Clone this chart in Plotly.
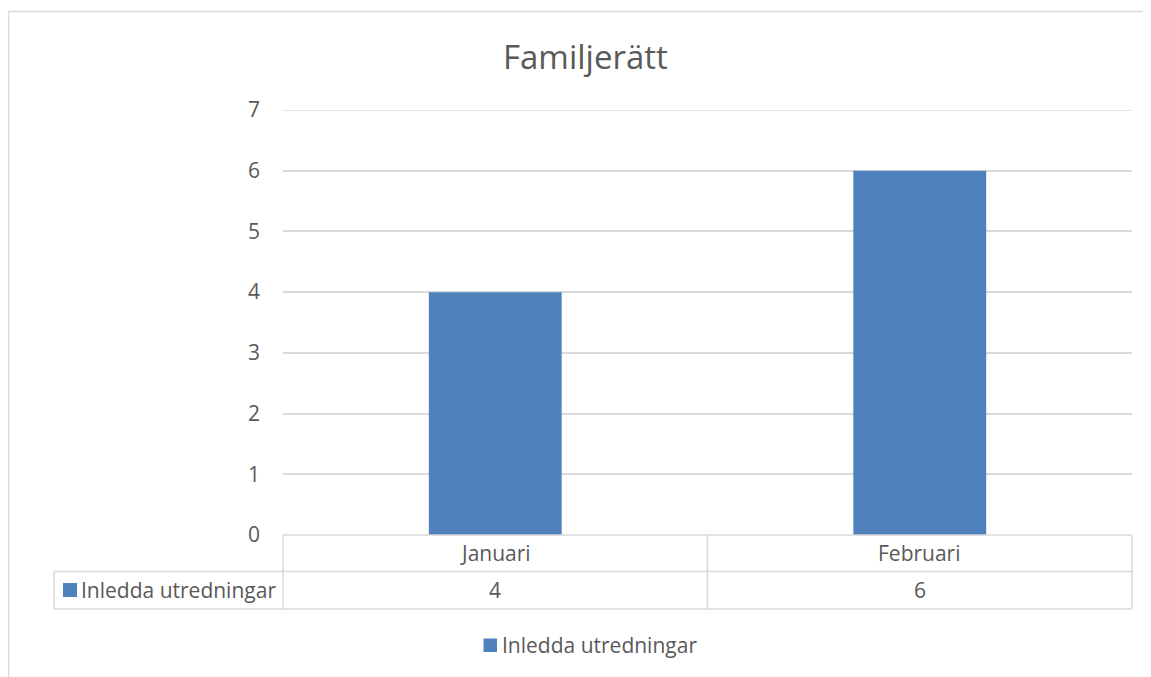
import plotly.graph_objects as go

# ---- data ----
categories = ["Januari", "Februari"]
series_name = "Inledda utredningar"
values = [4, 6]
title_text = "Familjerätt"
y_ticks = [0, 1, 2, 3, 4, 5, 6, 7]

BAR_COLOR = "#4f81bd"
TEXT_COLOR = "#595959"
LINE_COLOR = "#d9d9d9"
FONT = "Open Sans"
LBL = 21

OFF = 8  # page body margin in the browser
W, H = 1151 - OFF, 677 - OFF
L, R, T, B = 283, 1132, 110, 535  # plot area in page pixels
PW, PH = R - L, B - T


def px(x):
    return (x - L) / PW


def py(y):
    return (B - y) / PH


fig = go.Figure()
fig.add_trace(go.Bar(
    x=categories, y=values, name=series_name,
    marker=dict(color=BAR_COLOR, line=dict(width=0)),
    width=0.313, showlegend=False,
))

shapes = []


def line(x0, y0, x1, y1, xref="paper", yref="paper", layer="above"):
    shapes.append(dict(type="line", xref=xref, yref=yref, x0=x0, y0=y0, x1=x1, y1=y1,
                       line=dict(color=LINE_COLOR, width=1.5), layer=layer))


# outer chart border (top and left visible)
line(px(8.5), py(11.5), px(1165), py(11.5))
line(px(8.5), py(11.5), px(8.5), py(690))

# top gridline (plotly hides the one on the range edge)
line(0, y_ticks[-1], 1, y_ticks[-1], yref="y", layer="below")

# data table
row1, row2 = py(571.5), py(609)
line(0, 0, 1, 0)
line(px(54), row1, 1, row1)
line(px(54), row2, 1, row2)
line(px(54), row1, px(54), row2)
line(0, 0, 0, row2)
line(1, 0, 1, row2)
for i in range(len(categories) - 1):
    line(i + 0.5, 0, i + 0.5, row2, xref="x")

# legend key in table
shapes.append(dict(type="rect", xref="paper", yref="paper",
                   x0=px(63), x1=px(77), y0=py(583), y1=py(597),
                   fillcolor=BAR_COLOR, line=dict(width=0), layer="above"))
# bottom legend key
shapes.append(dict(type="rect", xref="paper", yref="paper",
                   x0=px(483.5), x1=px(497), y0=py(638.5), y1=py(652),
                   fillcolor=BAR_COLOR, line=dict(width=0), layer="above"))

annotations = []
for c, v in zip(categories, values):
    annotations.append(dict(x=c, xref="x", y=py(552.5), yref="paper", text=c,
                            showarrow=False, xanchor="center", yanchor="middle",
                            font=dict(family=FONT, size=LBL, color=TEXT_COLOR)))
    annotations.append(dict(x=c, xref="x", y=py(590), yref="paper", text=str(v),
                            showarrow=False, xanchor="center", yanchor="middle",
                            font=dict(family=FONT, size=LBL, color=TEXT_COLOR)))
annotations.append(dict(x=px(79), xref="paper", y=py(590), yref="paper", text=series_name,
                        showarrow=False, xanchor="left", yanchor="middle",
                        font=dict(family=FONT, size=LBL, color=TEXT_COLOR)))
annotations.append(dict(x=px(500), xref="paper", y=py(645), yref="paper", text=series_name,
                        showarrow=False, xanchor="left", yanchor="middle",
                        font=dict(family=FONT, size=LBL, color=TEXT_COLOR)))
annotations.append(dict(x=px(585.5), xref="paper", y=py(57), yref="paper", text=title_text,
                        showarrow=False, xanchor="center", yanchor="middle",
                        font=dict(family=FONT, size=33, color=TEXT_COLOR)))

fig.update_layout(
    width=W, height=H,
    margin=dict(l=L - OFF, r=W - (R - OFF), t=T - OFF, b=H - (B - OFF), pad=0),
    paper_bgcolor="white", plot_bgcolor="white",
    showlegend=False,
    xaxis=dict(type="category", range=[-0.5, len(categories) - 0.5], showticklabels=False,
               showgrid=False, zeroline=False, showline=False, ticks=""),
    yaxis=dict(range=[0, 7], tickvals=y_ticks, showgrid=True, gridcolor=LINE_COLOR, gridwidth=1.5,
               zeroline=False, showline=False, ticks="", ticklabelstandoff=22,
               tickfont=dict(family=FONT, size=LBL, color=TEXT_COLOR)),
    shapes=shapes, annotations=annotations,
    font=dict(family=FONT, color=TEXT_COLOR),
)

fig.write_html("out.html")
